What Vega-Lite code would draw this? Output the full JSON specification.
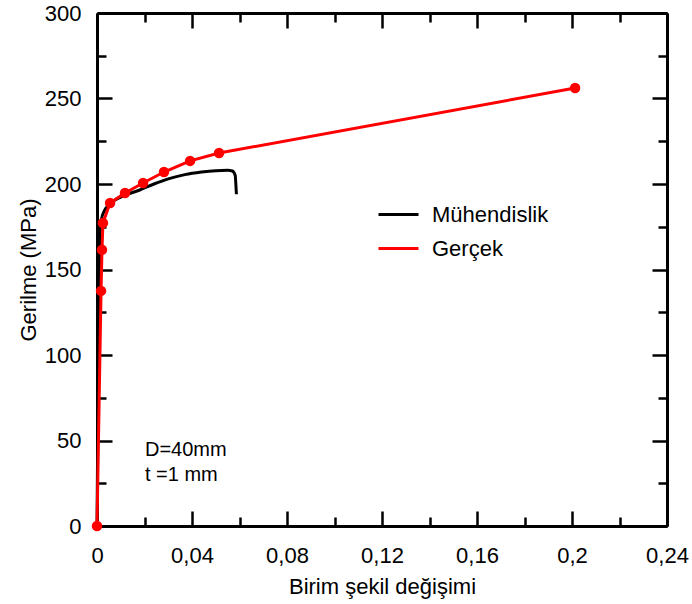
{
  "$schema": "https://vega.github.io/schema/vega-lite/v6.json",
  "autosize": "none",
  "width": 570,
  "height": 513,
  "padding": {"left": 97, "top": 13, "right": 25, "bottom": 78},
  "background": "white",
  "config": {
    "view": {"stroke": null},
    "font": "Liberation Sans",
    "axis": {
      "domainColor": "black",
      "domainWidth": 3,
      "tickColor": "black",
      "tickWidth": 2.5,
      "labelColor": "black",
      "titleColor": "black",
      "labelFont": "Liberation Sans",
      "titleFont": "Liberation Sans",
      "labelFontSize": 22,
      "titleFontSize": 22,
      "titleFontWeight": "normal",
      "grid": false
    }
  },
  "data": {
    "values": [
      {"series": "Mühendislik", "strain": 0, "stress": 0},
      {"series": "Mühendislik", "strain": 0.0006, "stress": 100},
      {"series": "Mühendislik", "strain": 0.001, "stress": 150},
      {"series": "Mühendislik", "strain": 0.0014, "stress": 172},
      {"series": "Mühendislik", "strain": 0.002, "stress": 180},
      {"series": "Mühendislik", "strain": 0.003, "stress": 184},
      {"series": "Mühendislik", "strain": 0.005, "stress": 188},
      {"series": "Mühendislik", "strain": 0.008, "stress": 191},
      {"series": "Mühendislik", "strain": 0.012, "stress": 193.5},
      {"series": "Mühendislik", "strain": 0.018, "stress": 196.5},
      {"series": "Mühendislik", "strain": 0.024, "stress": 200},
      {"series": "Mühendislik", "strain": 0.03, "stress": 203},
      {"series": "Mühendislik", "strain": 0.037, "stress": 205.5},
      {"series": "Mühendislik", "strain": 0.044, "stress": 207},
      {"series": "Mühendislik", "strain": 0.05, "stress": 207.8},
      {"series": "Mühendislik", "strain": 0.055, "stress": 208},
      {"series": "Mühendislik", "strain": 0.057, "stress": 207.6},
      {"series": "Mühendislik", "strain": 0.0582, "stress": 205},
      {"series": "Mühendislik", "strain": 0.0585, "stress": 199},
      {"series": "Mühendislik", "strain": 0.0587, "stress": 194},
      {"series": "Gerçek", "strain": 0, "stress": 0},
      {"series": "Gerçek", "strain": 0.0017, "stress": 137.5},
      {"series": "Gerçek", "strain": 0.0021, "stress": 161.5},
      {"series": "Gerçek", "strain": 0.0025, "stress": 177.2},
      {"series": "Gerçek", "strain": 0.0055, "stress": 188.9},
      {"series": "Gerçek", "strain": 0.0118, "stress": 194.7},
      {"series": "Gerçek", "strain": 0.0194, "stress": 200.6},
      {"series": "Gerçek", "strain": 0.0282, "stress": 207},
      {"series": "Gerçek", "strain": 0.0392, "stress": 213.5},
      {"series": "Gerçek", "strain": 0.0514, "stress": 218.1},
      {"series": "Gerçek", "strain": 0.2013, "stress": 256.1}
    ]
  },
  "resolve": {"axis": {"x": "independent", "y": "independent"}},
  "layer": [
    {
      "transform": [{"filter": "datum.series === 'Mühendislik'"}],
      "mark": {"type": "line", "strokeWidth": 3, "interpolate": "monotone"},
      "encoding": {
        "x": {
          "field": "strain", "type": "quantitative",
          "scale": {"domain": [0, 0.24], "nice": false, "zero": false},
          "axis": {
            "orient": "bottom",
            "title": "Birim şekil değişimi",
            "values": [0, 0.02, 0.04, 0.06, 0.08, 0.1, 0.12, 0.14, 0.16, 0.18, 0.2, 0.22, 0.24],
            "labelExpr": "round(datum.value * 100) % 4 === 0 ? replace(format(datum.value, '.2~f'), '.', ',') : ''",
            "tickSize": {"condition": {"test": "round(datum.value * 100) % 4 === 0", "value": -15}, "value": -9},
            "labelPadding": 34,
            "labelFlush": false,
            "labelOverlap": false,
            "titlePadding": 4
          }
        },
        "y": {
          "field": "stress", "type": "quantitative",
          "scale": {"domain": [0, 300], "nice": false},
          "axis": {
            "orient": "left",
            "title": "Gerilme (MPa)",
            "values": [0, 25, 50, 75, 100, 125, 150, 175, 200, 225, 250, 275, 300],
            "labelExpr": "datum.value % 50 === 0 ? datum.label : ''",
            "tickSize": {"condition": {"test": "datum.value % 50 === 0", "value": -15}, "value": -9},
            "labelPadding": 31,
            "labelFlush": false,
            "labelOverlap": false,
            "titlePadding": 4
          }
        },
        "color": {
          "field": "series", "type": "nominal",
          "scale": {"domain": ["Mühendislik", "Gerçek"], "range": ["#000000", "#ff0000"]},
          "legend": {
            "orient": "none",
            "legendX": 280,
            "legendY": 180,
            "title": null,
            "symbolType": "stroke",
            "symbolSize": 1600,
            "symbolStrokeWidth": 3,
            "labelFont": "Liberation Sans",
            "labelFontSize": 22,
            "labelColor": "black",
            "labelOffset": 12,
            "rowPadding": 1,
            "padding": 0
          }
        }
      }
    },
    {
      "transform": [{"filter": "datum.series === 'Gerçek'"}],
      "mark": {"type": "line", "strokeWidth": 3},
      "encoding": {
        "x": {
          "field": "strain", "type": "quantitative",
          "axis": {
            "orient": "top",
            "title": null,
            "values": [0, 0.02, 0.04, 0.06, 0.08, 0.1, 0.12, 0.14, 0.16, 0.18, 0.2, 0.22, 0.24],
            "labels": false,
            "tickSize": {"condition": {"test": "round(datum.value * 100) % 4 === 0", "value": -15}, "value": -9}
          }
        },
        "y": {
          "field": "stress", "type": "quantitative",
          "axis": {
            "orient": "right",
            "title": null,
            "values": [0, 25, 50, 75, 100, 125, 150, 175, 200, 225, 250, 275, 300],
            "labels": false,
            "tickSize": {"condition": {"test": "datum.value % 50 === 0", "value": -15}, "value": -9}
          }
        },
        "color": {"field": "series", "type": "nominal"}
      }
    },
    {
      "transform": [{"filter": "datum.series === 'Gerçek'"}],
      "mark": {"type": "point", "filled": true, "size": 110, "color": "#ff0000", "opacity": 1},
      "encoding": {
        "x": {"field": "strain", "type": "quantitative", "axis": null},
        "y": {"field": "stress", "type": "quantitative", "axis": null}
      }
    },
    {
      "data": {
        "values": [
          {"label": "D=40mm", "x": 0.0202, "y": 44.4},
          {"label": "t =1 mm", "x": 0.0202, "y": 29.8}
        ]
      },
      "mark": {"type": "text", "align": "left", "baseline": "middle", "fontSize": 20, "font": "Liberation Sans", "color": "black"},
      "encoding": {
        "x": {"field": "x", "type": "quantitative", "axis": null},
        "y": {"field": "y", "type": "quantitative", "axis": null},
        "text": {"field": "label"}
      }
    }
  ]
}
